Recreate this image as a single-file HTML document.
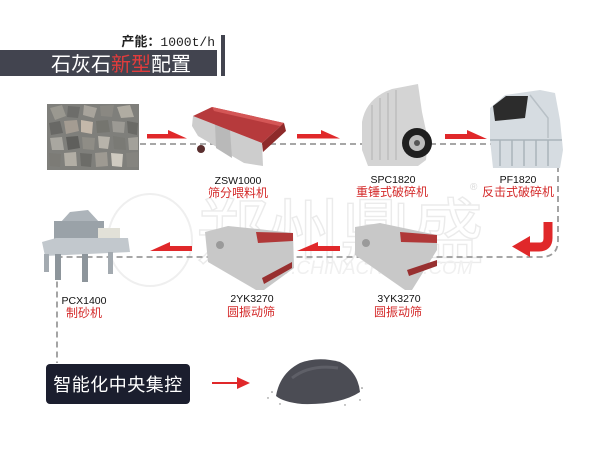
<!DOCTYPE html>
<html><head><meta charset="utf-8"><style>
html,body{margin:0;padding:0;background:#fff;}
svg{display:block;}
text{font-family:"Liberation Sans","Noto Sans CJK SC",sans-serif;}
</style></head><body>
<svg width="600" height="453" viewBox="0 0 600 453" xmlns="http://www.w3.org/2000/svg">
<rect width="600" height="453" fill="#fff"/>
<!-- watermark -->
<g>
<ellipse cx="150" cy="240" rx="42" ry="46" fill="none" stroke="#efefef" stroke-width="2"/>
<text x="196" y="258" font-size="72" fill="none" stroke="#ebebeb" stroke-width="1.4">郑州鼎盛</text>
<text x="238" y="274" font-size="19" fill="#f0f0f0" font-style="italic">WWW.CHINACRUSH.COM</text>
<text x="470" y="190" font-size="10" fill="#d8d8d8">®</text>
</g>
<!-- title -->
<text x="215" y="46" font-size="13" text-anchor="end" fill="#222" font-weight="bold">产能：<tspan font-family="Liberation Mono" font-weight="normal">1000t/h</tspan></text>
<rect x="0" y="50" width="217" height="26" fill="#42444f"/>
<rect x="221" y="35" width="4" height="41" fill="#42444f"/>
<text x="51" y="71" font-size="20" fill="#fff">石灰石<tspan fill="#e23c3c">新型</tspan>配置</text>
<!-- dashed path -->
<path d="M140,144 H558 V240 Q558,257 541,257 H57 V363" fill="none" stroke="#9b9b9b" stroke-width="1.8" stroke-dasharray="6,4"/>
<!-- rocks -->
<rect x="47" y="104" width="92" height="66" fill="#7f7f7b"/>
<g>
<polygon points="50,108 62,105 66,116 55,120" fill="#9a9890"/>
<polygon points="68,106 80,107 78,118 67,117" fill="#6d6d6a"/>
<polygon points="84,105 97,108 94,118 83,115" fill="#a8a49c"/>
<polygon points="100,106 114,105 112,117 101,116" fill="#8a8882"/>
<polygon points="117,107 130,105 134,117 121,118" fill="#b0aca2"/>
<polygon points="49,123 60,121 63,133 51,135" fill="#686865"/>
<polygon points="64,121 77,120 79,131 66,134" fill="#a49c92"/>
<polygon points="81,120 93,122 92,134 81,132" fill="#c4b8aa"/>
<polygon points="96,121 108,120 110,132 97,133" fill="#75756f"/>
<polygon points="112,121 125,122 124,133 113,132" fill="#9c9a94"/>
<polygon points="127,121 138,123 137,135 128,133" fill="#6a6a66"/>
<polygon points="50,138 62,137 64,150 52,150" fill="#a9a7a0"/>
<polygon points="66,137 78,136 80,148 68,150" fill="#5f5f5c"/>
<polygon points="82,137 95,138 94,150 83,149" fill="#8f8d86"/>
<polygon points="98,136 110,137 108,149 99,148" fill="#b7b3aa"/>
<polygon points="113,136 125,138 126,150 114,149" fill="#7a7a75"/>
<polygon points="128,138 138,137 138,150 129,150" fill="#a3a19a"/>
<polygon points="49,153 61,154 60,167 50,166" fill="#7c7b76"/>
<polygon points="64,153 76,152 77,166 65,166" fill="#b2aea5"/>
<polygon points="80,153 92,154 91,167 81,166" fill="#6c6c68"/>
<polygon points="95,153 107,152 108,166 96,167" fill="#9e9a92"/>
<polygon points="111,153 123,154 122,167 112,166" fill="#cfcac0"/>
<polygon points="126,153 138,152 138,167 127,167" fill="#85847f"/>
</g>
<!-- feeder -->
<polygon points="193,116 262,143 263,166 244,163 198,136 192,126" fill="#cdcdcd"/>
<polygon points="215,124 230,130 232,158 216,148" fill="#b9b9b9"/>
<polygon points="193,116 212,107 284,123 262,143" fill="#b63a3c"/>
<polygon points="212,107 284,123 284,127 214,111" fill="#d45656"/>
<polygon points="262,143 284,123 286,131 263,152" fill="#8e2a2a"/>
<circle cx="201" cy="149" r="4" fill="#5a2e2e"/>
<!-- hammer crusher -->
<path d="M362,122 Q366,98 392,89 L418,84 L422,112 L428,140 L426,160 L418,166 L368,166 L362,150 Z" fill="#d4d4d4"/>
<path d="M372,105 V160 M380,98 V160 M388,93 V160 M396,90 V160" stroke="#bdbdbd" stroke-width="1.5"/>
<circle cx="417" cy="143" r="15" fill="#1f1f1f"/>
<circle cx="417" cy="143" r="8" fill="#bdbdbd"/>
<circle cx="417" cy="143" r="3" fill="#555"/>
<!-- impact crusher -->
<polygon points="490,108 505,95 540,90 555,93 560,120 563,150 560,168 493,168 490,140" fill="#d6dce1"/>
<polygon points="493,106 506,96 528,96 525,118 495,121" fill="#2c2c2c"/>
<path d="M500,140 V166 M512,140 V166 M524,140 V166 M536,140 V166 M548,140 V166 M490,140 H562" stroke="#aab3ba" stroke-width="1.5"/>
<path d="M530,95 L548,118 V138" stroke="#b8c0c6" stroke-width="1.5" fill="none"/>
<!-- 3YK screen -->
<polygon points="355,227 380,223 437,235 437,250 412,290 405,290 355,255" fill="#c8c8c8"/>
<polygon points="400,232 437,235 437,243 401,242" fill="#b03838"/>
<polygon points="407,270 437,260 437,266 409,276" fill="#983030"/>
<circle cx="366" cy="243" r="4" fill="#9a9a9a"/>
<!-- 2YK screen -->
<polygon points="205,232 228,226 258,229 293,233 294,268 264,290 256,290 208,262" fill="#c8c8c8"/>
<polygon points="256,232 293,233 293,241 258,243" fill="#b03838"/>
<polygon points="262,278 292,262 292,268 264,284" fill="#983030"/>
<circle cx="220" cy="245" r="4" fill="#9a9a9a"/>
<!-- PCX sand maker -->
<polygon points="60,223 70,212 88,210 100,223" fill="#adb4ba"/>
<rect x="54" y="221" width="50" height="20" fill="#9aa2a8"/>
<rect x="98" y="228" width="22" height="14" fill="#e2e1d8"/>
<polygon points="42,242 56,238 128,238 130,252 45,256" fill="#c2c8cd"/>
<rect x="55" y="254" width="6" height="26" fill="#8d959b"/>
<rect x="82" y="254" width="6" height="28" fill="#8d959b"/>
<rect x="108" y="252" width="5" height="22" fill="#a3aab0"/>
<rect x="44" y="254" width="5" height="18" fill="#a3aab0"/>
<!-- arrows -->
<g fill="#e0282a">
<polygon points="147,134 168,134 168,130 187,138.5 147,138.5"/>
<polygon points="297,134 321,134 321,130 340,138.5 297,138.5"/>
<polygon points="445,134 467,134 467,130 487,139 445,139"/>
<polygon points="192,246 170,246 170,242 150,251 192,251"/>
<polygon points="340,246 318,246 318,242 297,251 340,251"/>
<polygon points="530,236 530,257 512,246.5"/>
</g>
<path d="M548,222 V238 Q548,247 539,247 H528" fill="none" stroke="#e0282a" stroke-width="9"/>
<!-- labels -->
<g font-size="10.5" fill="#111" text-anchor="middle">
<text x="238" y="184">ZSW1000</text>
<text x="393" y="183">SPC1820</text>
<text x="518" y="183">PF1820</text>
<text x="84" y="304">PCX1400</text>
<text x="252" y="302">2YK3270</text>
<text x="399" y="302">3YK3270</text>
</g>
<g font-size="12" fill="#d42a2a" text-anchor="middle">
<text x="238" y="197">筛分喂料机</text>
<text x="392" y="196">重锤式破碎机</text>
<text x="518" y="196">反击式破碎机</text>
<text x="84" y="317">制砂机</text>
<text x="251" y="316">圆振动筛</text>
<text x="398" y="316">圆振动筛</text>
</g>
<!-- bottom -->
<rect x="46" y="364" width="144" height="40" rx="4" fill="#1b1e2e"/>
<text x="118" y="391" font-size="18" fill="#fff" text-anchor="middle" letter-spacing="0.5">智能化中央集控</text>
<line x1="212" y1="383" x2="240" y2="383" stroke="#e0282a" stroke-width="2"/>
<polygon points="237,377 250,383 237,389" fill="#e0282a"/>
<path d="M276,396 Q280,373 300,363 Q318,356 340,362 Q358,372 360,392 Q340,405 302,404 Q283,402 276,396 Z" fill="#4b4c54"/>
<path d="M292,378 Q310,364 338,368" stroke="#5e5f67" stroke-width="3" fill="none"/>
<g fill="#777">
<circle cx="272" cy="392" r="0.8"/><circle cx="268" cy="398" r="0.7"/><circle cx="362" cy="388" r="0.8"/>
<circle cx="360" cy="400" r="0.7"/><circle cx="280" cy="404" r="0.7"/><circle cx="345" cy="405" r="0.7"/>
</g>
</svg>
</body></html>
